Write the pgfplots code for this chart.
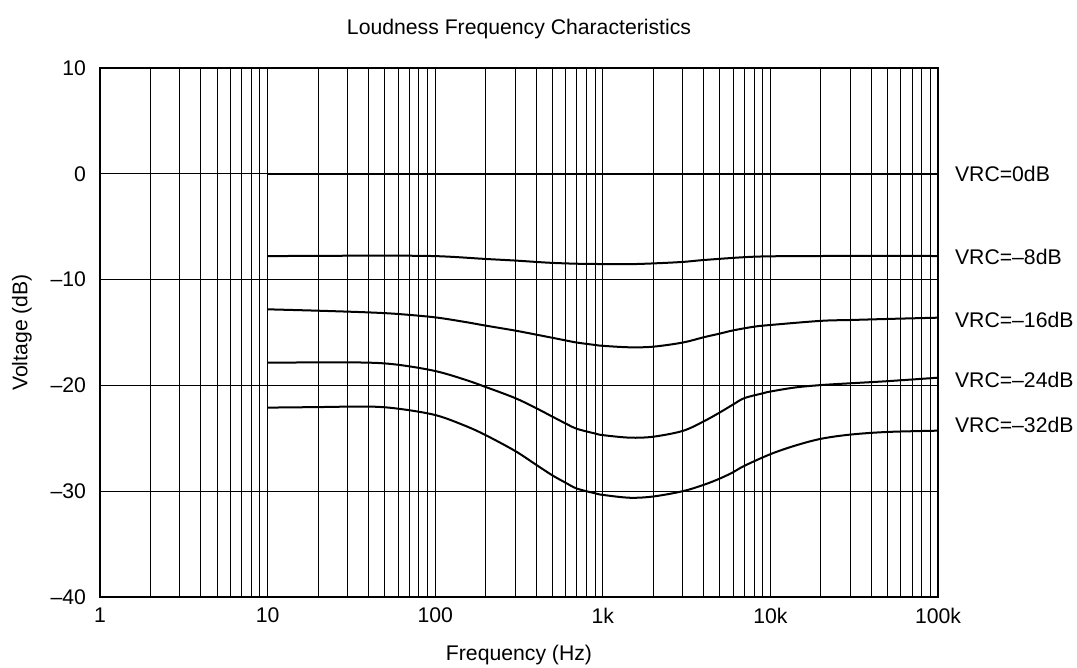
\documentclass[border=0pt]{standalone}
\usepackage{fontspec}
\setmainfont{Liberation Sans}
\usepackage{pgfplots}
\pgfplotsset{compat=1.18}
\begin{document}
\begin{tikzpicture}
\begin{axis}[
  scale only axis,
  width=419pt, height=264.5pt,
  xmode=log,
  xmin=1, xmax=100000,
  ymin=-40, ymax=10,
  xtick={1,10,100,1000,10000,100000},
  xticklabels={1,10,100,1k,10k,100k},
  ytick={-40,-30,-20,-10,0,10},
  yticklabels={–40,–30,–20,–10,0,10},
  xmajorgrids, xminorgrids, ymajorgrids,
  major grid style={black, line width=0.5pt},
  minor grid style={black, line width=0.5pt},
  major tick length=0pt, minor tick length=0pt,
  axis line style={line width=1.2pt},
  tick label style={font=\fontsize{10.6}{12}\selectfont},
  xticklabel style={yshift=-2pt},
  yticklabel style={xshift=-3.5pt},
  label style={font=\fontsize{10.6}{12}\selectfont},
  title style={font=\fontsize{10.6}{12}\selectfont, at={(axis description cs:0.5,1)}, anchor=base, yshift=10.5pt},
  title={Loudness Frequency Characteristics},
  xlabel={Frequency (Hz)},
  ylabel={Voltage (dB)},
  xlabel style={at={(axis description cs:0.5,0)}, anchor=base, yshift=-32pt},
  ylabel style={at={(axis description cs:0,0.5)}, anchor=center, yshift=39pt},
  clip=false,
  curve/.style={black, line width=1pt, no markers, smooth, tension=0.55},
]
% VRC = 0 dB
\addplot[curve] coordinates {(10,0) (100000,0)};
% VRC = -8 dB
\addplot[curve] coordinates {
(10,-7.78) (40,-7.74) (100,-7.78) (200,-8.05) (300,-8.2) (400,-8.33) (500,-8.42) (700,-8.5) (1000,-8.53) (1450,-8.54) (2000,-8.47) (3000,-8.33) (4000,-8.15) (7000,-7.88) (10000,-7.8) (20000,-7.77) (100000,-7.77)};
% VRC = -16 dB
\addplot[curve] coordinates {
(10,-12.81) (20,-12.94) (40,-13.1) (60,-13.25) (100,-13.57) (150,-14.0) (200,-14.35) (300,-14.82) (400,-15.2) (500,-15.5) (600,-15.75) (700,-15.95) (900,-16.18) (1000,-16.26) (1450,-16.4) (2000,-16.34) (3000,-15.95) (4000,-15.45) (5000,-15.1) (6000,-14.8) (8000,-14.45) (10000,-14.29) (20000,-13.9) (30000,-13.82) (50000,-13.72) (100000,-13.6)};
% VRC = -24 dB
\addplot[curve] coordinates {
(10,-17.85) (20,-17.83) (40,-17.85) (60,-18.05) (100,-18.64) (150,-19.45) (200,-20.15) (300,-21.2) (400,-22.15) (500,-22.95) (600,-23.6) (700,-24.1) (900,-24.55) (1000,-24.7) (1450,-24.94) (2000,-24.85) (3000,-24.3) (4000,-23.4) (5000,-22.55) (6000,-21.8) (7000,-21.2) (9000,-20.75) (10000,-20.58) (14000,-20.2) (20000,-19.97) (30000,-19.8) (50000,-19.6) (100000,-19.27)};
% VRC = -32 dB
\addplot[curve] coordinates {
(10,-22.1) (20,-22.05) (40,-22.0) (60,-22.2) (100,-22.8) (150,-23.8) (200,-24.7) (300,-26.2) (400,-27.5) (500,-28.5) (600,-29.2) (700,-29.75) (900,-30.2) (1000,-30.35) (1450,-30.62) (2000,-30.5) (3000,-30.0) (4000,-29.4) (5000,-28.8) (6000,-28.2) (7000,-27.6) (10000,-26.5) (14000,-25.7) (20000,-25.05) (30000,-24.65) (50000,-24.4) (100000,-24.28)};
\node[anchor=west, font=\fontsize{10.6}{12}\selectfont, xshift=5pt] at (axis cs:100000,0) {VRC=0dB};
\node[anchor=west, font=\fontsize{10.6}{12}\selectfont, xshift=5pt] at (axis cs:100000,-7.9) {VRC=–8dB};
\node[anchor=west, font=\fontsize{10.6}{12}\selectfont, xshift=5pt] at (axis cs:100000,-13.8) {VRC=–16dB};
\node[anchor=west, font=\fontsize{10.6}{12}\selectfont, xshift=5pt] at (axis cs:100000,-19.5) {VRC=–24dB};
\node[anchor=west, font=\fontsize{10.6}{12}\selectfont, xshift=5pt] at (axis cs:100000,-23.7) {VRC=–32dB};
\end{axis}
\pgfresetboundingbox
\path ([shift={(-50pt,-35.5pt)}]current axis.south west) rectangle ([shift={(69.5pt,34pt)}]current axis.north east);
\end{tikzpicture}
\end{document}
